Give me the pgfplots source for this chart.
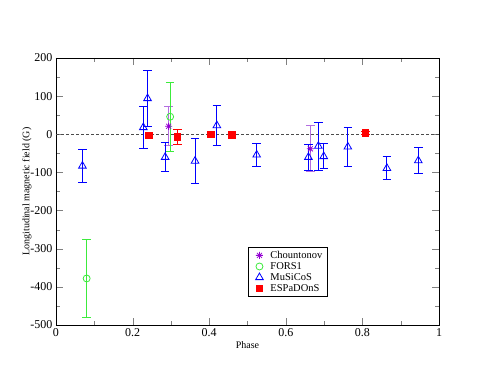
\documentclass[border=0pt]{standalone}
\usepackage{fontspec}
\setmainfont{Liberation Serif}
\usepackage{pgfplots}
\pgfplotsset{compat=1.18}
\definecolor{gviolet}{RGB}{148,0,211}
\definecolor{gvioletbar}{RGB}{180,110,225}
\definecolor{ggreen}{RGB}{60,235,60}
\definecolor{gblue}{RGB}{0,0,255}
\definecolor{gred}{RGB}{255,0,0}

% eight-armed asterisk
\pgfdeclareplotmark{ast8}{%
  \pgfpathmoveto{\pgfqpoint{-\pgfplotmarksize}{0pt}}\pgfpathlineto{\pgfqpoint{\pgfplotmarksize}{0pt}}%
  \pgfpathmoveto{\pgfqpoint{0pt}{-\pgfplotmarksize}}\pgfpathlineto{\pgfqpoint{0pt}{\pgfplotmarksize}}%
  \pgfpathmoveto{\pgfqpoint{-.707\pgfplotmarksize}{-.707\pgfplotmarksize}}\pgfpathlineto{\pgfqpoint{.707\pgfplotmarksize}{.707\pgfplotmarksize}}%
  \pgfpathmoveto{\pgfqpoint{-.707\pgfplotmarksize}{.707\pgfplotmarksize}}\pgfpathlineto{\pgfqpoint{.707\pgfplotmarksize}{-.707\pgfplotmarksize}}%
  \pgfusepathqstroke}

% error bars with flat caps
\pgfplotsset{ebar/.style={error bars/.cd, y dir=both, y explicit,
  draw error bar/.code 2 args={\draw[line width=1pt, draw=#1] ##1 -- ##2 ++(-4.2pt,0pt) -- ++(8.4pt,0pt);}}}

\begin{document}
\begin{tikzpicture}
\begin{axis}[name=ax,
  scale only axis, width=383pt, height=267pt,
  xmin=0, xmax=1, ymin=-500, ymax=200,
  xtick={0,0.2,0.4,0.6,0.8,1}, ytick={-500,-400,...,200},
  minor x tick num=1, minor y tick num=1,
  tick align=inside, major tick length=7pt, minor tick length=4pt,
  /pgf/number format/assume math mode=true,
  ticklabel style={font=\fontsize{12}{12}\selectfont},
  label style={font=\fontsize{10}{12}\selectfont},
  xlabel=Phase, xlabel shift=-2pt,
  ylabel=Longitudinal magnetic field (G), ylabel shift=-8pt,
  legend style={at={(0.502,0.293)}, anchor=north west, draw=black,
    font=\fontsize{10.5}{12}\selectfont, cells={anchor=west},
    row sep=-1.5pt, inner xsep=3pt, inner ysep=2pt},
  legend image code/.code={\draw[#1, only marks] plot coordinates {(8pt,0pt)}; \path[draw=none,fill=none] (0pt,0pt) rectangle (17pt,0.1pt);},
]
\addplot[forget plot, densely dashed, gray!60!black, line width=0.7pt] coordinates {(0,0) (1,0)};

% Chountonov
\addplot[only marks, mark=ast8, mark size=3.5pt, color=gviolet, line width=0.8pt, ebar=gvioletbar] coordinates {
  (0.294,21) +- (0,51)
  (0.664,-38) +- (0,60)
};
\addlegendentry{Chountonov}

% FORS1
\addplot[only marks, mark=o, mark size=3.5pt, color=ggreen, line width=0.8pt, ebar=ggreen] coordinates {
  (0.080,-378) +- (0,103)
  (0.298,46) +- (0,90)
};
\addlegendentry{FORS1}

% MuSiCoS
\addplot[only marks, mark=triangle, mark size=4.4pt, color=gblue, line width=0.8pt, ebar=gblue] coordinates {
  (0.069,-83) +- (0,44)
  (0.228,18) +- (0,54)
  (0.239,94) +- (0,74)
  (0.285,-60) +- (0,38)
  (0.363,-70) +- (0,58)
  (0.420,23) +- (0,53)
  (0.524,-54) +- (0,30)
  (0.659,-60) +- (0,34)
  (0.685,-31) +- (0,63)
  (0.699,-58) +- (0,33)
  (0.762,-33) +- (0,52)
  (0.864,-89) +- (0,30)
  (0.946,-69) +- (0,34)
};
\addlegendentry{MuSiCoS}

% ESPaDOnS
\addplot[only marks, mark=square*, mark size=3.3pt, color=gred, line width=0.8pt, ebar=gred] coordinates {
  (0.243,-3) +- (0,3)
  (0.317,-7) +- (0,20)
  (0.405,0) +- (0,3)
  (0.460,-1) +- (0,3)
  (0.808,3) +- (0,3)
};
\addlegendentry{ESPaDOnS}
\end{axis}
\path (ax.south west) ++(-56pt,-57pt) coordinate (bl);
\path (ax.north east) ++(55pt,58pt) coordinate (tr);
\path (bl) rectangle (tr);
\end{tikzpicture}
\end{document}
